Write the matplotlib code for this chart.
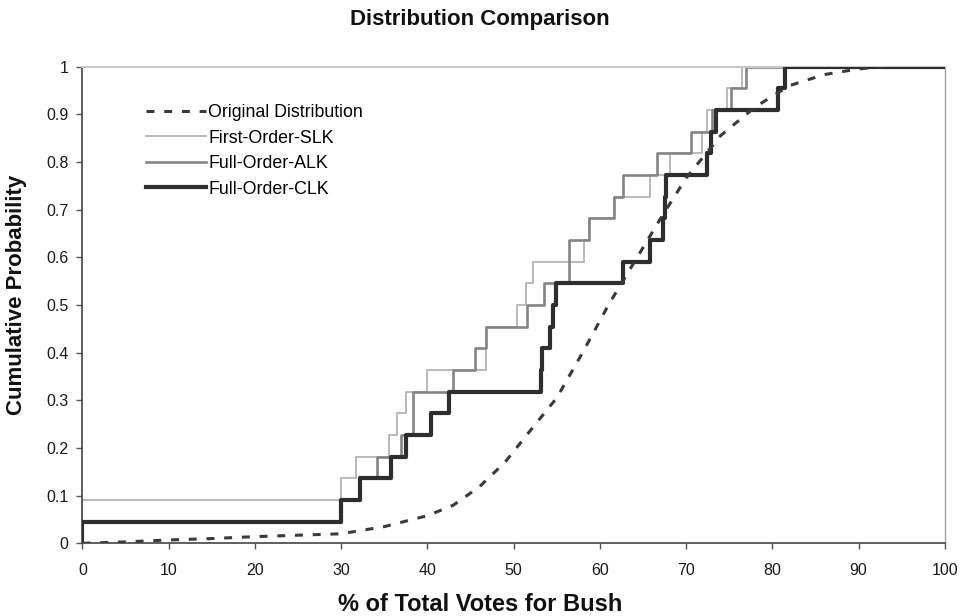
import numpy as np
import matplotlib
matplotlib.use("Agg")
import matplotlib.pyplot as plt

plt.rcParams['font.family'] = ['Liberation Sans', 'DejaVu Sans']

# ---- data ----
orig_x = [0, 5, 10, 15, 20, 25, 30, 35, 40, 43, 46, 49, 52, 55, 58, 61, 64, 67, 70, 74, 78, 82, 86, 90, 93]
orig_y = [0.0, 0.003, 0.007, 0.010, 0.014, 0.017, 0.020, 0.035, 0.058, 0.080, 0.118, 0.170, 0.238,
          0.305, 0.400, 0.500, 0.590, 0.680, 0.766, 0.855, 0.915, 0.960, 0.983, 0.995, 1.0]

slk_samples = [0, 0, 30.0, 31.7, 35.6, 36.5, 37.5, 40.0, 46.8, 46.8, 50.4, 51.4, 52.3,
               58.2, 58.7, 61.6, 65.8, 68.1, 71.8, 72.4, 74.8, 76.5]
alk_samples = [0, 30.0, 32.2, 34.2, 36.9, 38.3, 38.3, 43.0, 45.5, 46.8, 51.5, 53.5, 56.4,
               56.4, 58.7, 61.6, 62.7, 66.6, 70.6, 73.0, 75.2, 77.0]
clk_samples = [0, 30.0, 32.2, 35.8, 37.5, 40.4, 42.5, 53.2, 53.3, 54.2, 54.6, 54.9, 62.7,
               65.8, 67.3, 67.5, 67.7, 72.4, 72.9, 73.5, 80.7, 81.5]

labels = ["Original Distribution", "First-Order-SLK", "Full-Order-ALK", "Full-Order-CLK"]
x_ticks = list(range(0, 101, 10))
y_ticks = [0, 0.1, 0.2, 0.3, 0.4, 0.5, 0.6, 0.7, 0.8, 0.9, 1]
y_tick_labels = ["0", "0.1", "0.2", "0.3", "0.4", "0.5", "0.6", "0.7", "0.8", "0.9", "1"]


def ecdf_xy(samples, xmax=100):
    s = np.sort(np.asarray(samples, dtype=float))
    n = len(s)
    x = np.concatenate([[0.0], s, [xmax]])
    y = np.concatenate([[0.0], np.arange(1, n + 1) / n, [1.0]])
    return x, y


fig = plt.figure(figsize=(9.66, 6.16), dpi=100)
ax = fig.add_axes([0.0854, 0.118, 0.8926, 0.774])

ax.plot(orig_x, orig_y, color='#3a3a3a', lw=2.2, linestyle=(0, (2.6, 3.2)), label=labels[0], zorder=4)
x, y = ecdf_xy(slk_samples)
ax.step(x, y, where='post', color='#b4b4b4', lw=1.3, label=labels[1], zorder=2)
x, y = ecdf_xy(alk_samples)
ax.step(x, y, where='post', color='#858585', lw=1.9, label=labels[2], zorder=2.5)
x, y = ecdf_xy(clk_samples)
ax.step(x, y, where='post', color='#2e2e2e', lw=3.0, label=labels[3], zorder=3)

ax.set_xlim(0, 100)
ax.set_ylim(0, 1)
ax.set_xticks(x_ticks)
ax.set_yticks(y_ticks)
ax.set_yticklabels(y_tick_labels)
ax.tick_params(axis='both', direction='out', length=4, width=1, color='#555555',
               labelsize=11.5, labelcolor='#1a1a1a')
ax.tick_params(axis='x', pad=10)
ax.tick_params(axis='y', pad=6)

ax.spines['left'].set_color('#444444')
ax.spines['bottom'].set_color('#444444')
ax.spines['left'].set_linewidth(1.2)
ax.spines['bottom'].set_linewidth(1.2)
ax.spines['top'].set_color('#c8c8c8')
ax.spines['right'].set_color('#a0a0a0')
ax.spines['top'].set_linewidth(1.5)
ax.spines['right'].set_linewidth(1.0)

fig.text(0.497, 0.968, "Distribution Comparison", ha='center', va='center',
         fontsize=16, fontweight='bold', color='#111111')
fig.text(0.497, 0.018, "% of Total Votes for Bush", ha='center', va='center',
         fontsize=17, fontweight='bold', color='#111111')
fig.text(0.017, 0.521, "Cumulative Probability", ha='center', va='center', rotation=90,
         fontsize=16, fontweight='bold', color='#111111')

leg = ax.legend(loc='upper left', bbox_to_anchor=(0.055, 0.955), frameon=False,
                fontsize=12.8, handlelength=3.4, handletextpad=0.1, labelspacing=0.48)

fig.savefig("out.png", dpi=100)
